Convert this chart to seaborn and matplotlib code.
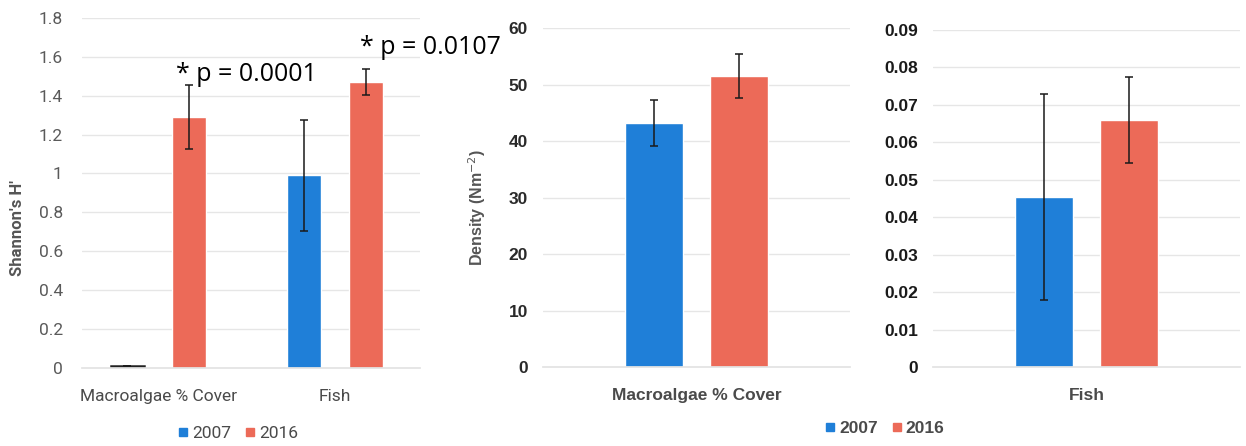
import pandas as pd
import numpy as np
import matplotlib
matplotlib.use("Agg")
import matplotlib.pyplot as plt
import seaborn as sns
from matplotlib.lines import Line2D

# ---- data ----
years = ["2007", "2016"]
groups_h = ["Macroalgae % Cover", "Fish"]
shannon_2007 = [0.01, 0.99]
shannon_2007_err = [0.0, 0.285]
shannon_2016 = [1.29, 1.47]
shannon_2016_err = [0.165, 0.065]

macro_density = [43.2, 51.6]
macro_density_err = [4.1, 3.9]
fish_density = [0.0455, 0.066]
fish_density_err = [0.0275, 0.0115]

p_labels = ["* p = 0.0001", "* p = 0.0107"]

colors = {"2007": "#1f7fd8", "2016": "#ec6a58"}

sns.set_theme(style="white")
plt.rcParams['font.family'] = ['Roboto', 'DejaVu Sans']
bold_font = ['Liberation Sans', 'DejaVu Sans']

df_h = pd.DataFrame({
    "grupo": groups_h * 2,
    "anio": [years[0]] * 2 + [years[1]] * 2,
    "valor": shannon_2007 + shannon_2016,
    "err": shannon_2007_err + shannon_2016_err,
})
df_m = pd.DataFrame({"grupo": ["Macroalgae % Cover"] * 2, "anio": years,
                     "valor": macro_density, "err": macro_density_err})
df_f = pd.DataFrame({"grupo": ["Fish"] * 2, "anio": years,
                     "valor": fish_density, "err": fish_density_err})

fig = plt.figure(figsize=(12.46, 4.46), dpi=100)
ax0 = fig.add_axes([0.066, 0.175, 0.271, 0.785])
ax1 = fig.add_axes([0.436, 0.177, 0.246, 0.760])
ax2 = fig.add_axes([0.749, 0.177, 0.246, 0.756])


def dibujar(ax, df, order, width, gap):
    sns.barplot(data=df, x="grupo", y="valor", hue="anio", order=order, hue_order=years,
                palette=colors, width=width, gap=gap, errorbar=None, legend=False,
                saturation=1, ax=ax)
    # barras de error a partir de las posiciones que calcula seaborn
    for cont, yr in zip(ax.containers, years):
        sub = df[df["anio"] == yr].set_index("grupo").reindex(order)
        xs = [p.get_x() + p.get_width() / 2 for p in cont.patches]
        ax.errorbar(xs, sub["valor"].values, yerr=sub["err"].values, fmt="none",
                    ecolor="#1a1a1a", elinewidth=1.1, capsize=3, capthick=1.1)
    ax.yaxis.grid(True, color="#e6e6e6", linewidth=1)
    ax.set_axisbelow(True)
    for s in ["left", "right", "top"]:
        ax.spines[s].set_visible(False)
    ax.spines["bottom"].set_color("#e3e3e3")
    ax.set_xlabel("")
    ax.set_ylabel("")


# ---- panel 1: Shannon ----
dibujar(ax0, df_h, groups_h, 0.7, 0.46)
# barra 2007 macroalgas casi nula, dibujada oscura como en el original
p0 = ax0.containers[0].patches[0]
p0.set_edgecolor("#222222")
p0.set_linewidth(1.8)
ax0.set_ylim(0, 1.8)
ax0.set_xlim(-0.43, 1.48)
ax0.set_yticks(np.arange(0, 1.81, 0.2))
ax0.set_yticklabels(["0", "0.2", "0.4", "0.6", "0.8", "1", "1.2", "1.4", "1.6", "1.8"])
ax0.tick_params(axis="y", length=0, pad=14, labelsize=12.5, labelcolor="#5a5a5a")
ax0.tick_params(axis="x", length=0, pad=15, labelsize=12.5, labelcolor="#4a4a4a")
ax0.set_ylabel("Shannon's H'", fontsize=12, fontweight="bold", color="#555555")
ax0.yaxis.set_label_coords(-0.17, 0.40)
ax0.text(0.10, 1.51, p_labels[0], fontsize=18, color="black", va="center", ha="left",
         family=["Open Sans", "DejaVu Sans"], clip_on=False)
ax0.text(1.14, 1.65, p_labels[1], fontsize=18, color="black", va="center", ha="left",
         family=["Open Sans", "DejaVu Sans"], clip_on=False)

# ---- panel 2: densidad macroalgas ----
dibujar(ax1, df_m, ["Macroalgae % Cover"], 0.55, 0.31)
ax1.set_ylim(0, 60)
ax1.set_xlim(-0.5, 0.5)
ax1.set_yticks(np.arange(0, 61, 10))
ax1.tick_params(axis="y", length=0, pad=11, labelsize=12.5, labelcolor="#2a2a2a")
ax1.tick_params(axis="x", length=0, pad=15, labelsize=12.5, labelcolor="#4a4a4a")
for t in ax1.get_yticklabels() + ax1.get_xticklabels():
    t.set_fontweight("bold")
    t.set_family(bold_font)
ax1.set_ylabel("Density (Nm$^{-2}$)", fontsize=11.5, fontweight="bold", color="#555555",
               family=bold_font)
ax1.yaxis.set_label_coords(-0.18, 0.47)

# ---- panel 3: densidad peces ----
dibujar(ax2, df_f, ["Fish"], 0.55, 0.31)
ax2.set_ylim(0, 0.09)
ax2.set_xlim(-0.5, 0.5)
ax2.set_yticks(np.arange(0, 0.091, 0.01))
ax2.set_yticklabels(["0"] + [f"{v:.2f}" for v in np.arange(0.01, 0.091, 0.01)])
ax2.tick_params(axis="y", length=0, pad=11, labelsize=12.5, labelcolor="#1a1a1a")
ax2.tick_params(axis="x", length=0, pad=15, labelsize=12.5, labelcolor="#4a4a4a")
for t in ax2.get_yticklabels() + ax2.get_xticklabels():
    t.set_fontweight("bold")
    t.set_family(bold_font)

# ---- leyendas ----
handles = [Line2D([], [], marker="s", linestyle="none", markersize=6,
                  markerfacecolor=colors[y], markeredgecolor=colors[y], label=y) for y in years]
leg0 = fig.legend(handles=handles, loc="center", bbox_to_anchor=(0.191, 0.029), ncol=2,
                  frameon=False, handlelength=0.6, handletextpad=0.2, columnspacing=0.8,
                  fontsize=12.5)
for t in leg0.get_texts():
    t.set_color("#4a4a4a")
leg1 = fig.legend(handles=handles, loc="center", bbox_to_anchor=(0.71, 0.04), ncol=2,
                  frameon=False, handlelength=0.6, handletextpad=0.2, columnspacing=0.8,
                  prop={"size": 12.5, "weight": "bold", "family": bold_font})
for t in leg1.get_texts():
    t.set_color("#4a4a4a")

fig.savefig("out.png", dpi=100, facecolor="white")
